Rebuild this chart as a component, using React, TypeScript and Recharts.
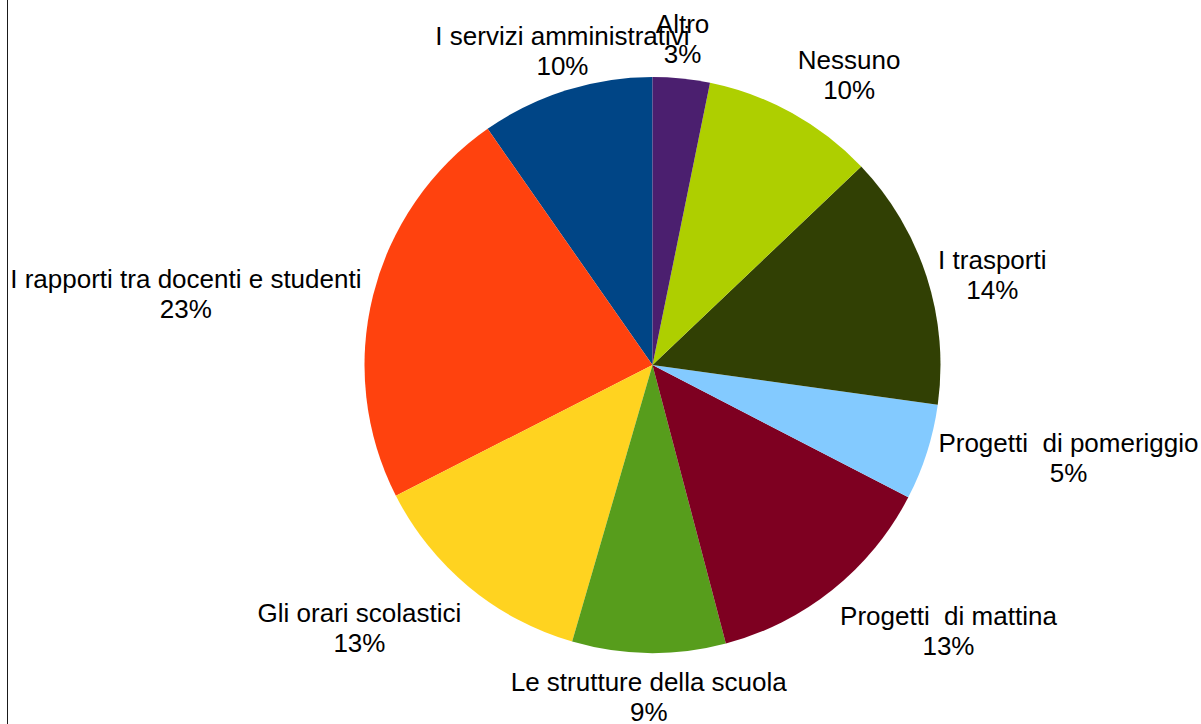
import { Cell, Pie, PieChart } from "recharts";

// slices in LibreOffice order (drawn counter-clockwise from 12 o'clock)
const categories = [
  "I servizi amministrativi",
  "I rapporti tra docenti e studenti",
  "Gli orari scolastici",
  "Le strutture della scuola",
  "Progetti  di mattina",
  "Progetti  di pomeriggio",
  "I trasporti",
  "Nessuno",
  "Altro",
];
const shares = [9.7, 22.8, 13.0, 8.6, 13.3, 5.4, 14.3, 9.7, 3.2];
const colors = [
  "#004586",
  "#ff420e",
  "#ffd320",
  "#579d1c",
  "#7e0021",
  "#83caff",
  "#314004",
  "#aecf00",
  "#4b1f6f",
];

const data = categories.map((name, i) => ({ name, value: shares[i] }));

const W = 1201;
const H = 724;
const CX = 652.5;
const CY = 365;
const R = 288;
const FONT = 26;
const LINE = 30;
const FONT_FAMILY = "'Liberation Sans', Arial, sans-serif";

let ctx: CanvasRenderingContext2D | null = null;
function textWidth(s: string) {
  if (!ctx) ctx = document.createElement("canvas").getContext("2d");
  if (!ctx) return s.length * FONT * 0.5;
  ctx.font = `${FONT}px ${FONT_FAMILY}`;
  return ctx.measureText(s).width;
}

const RAD = Math.PI / 180;

// LibreOffice-like placement: the box corner/edge nearest the pie sits at r + 12
function renderLabel(props: any) {
  const { cx, cy, outerRadius, midAngle, percent, name } = props;
  const dist = outerRadius + 12;
  const px = cx + dist * Math.cos(-midAngle * RAD);
  const py = cy + dist * Math.sin(-midAngle * RAD);
  const pct = `${Math.round(percent * 100)}%`;
  const w = Math.max(textWidth(name), textWidth(pct));
  const h = LINE * 2;
  // clock angle from 12 o'clock, clockwise
  let a = (90 - midAngle) % 360;
  if (a < 0) a += 360;
  const sector = Math.round(a / 45) % 8;
  // -1 box to the left/top, 0 centred, 1 box to the right/bottom
  const hx = [0, 1, 1, 1, 0, -1, -1, -1][sector];
  const vy = [-1, -1, 0, 1, 1, 1, 0, -1][sector];
  const bx = px + (hx * w) / 2;
  const by = py + (vy * h) / 2;
  const top = by - h / 2 + 2;
  return (
    <text
      x={bx}
      textAnchor="middle"
      fill="#000"
      fontSize={FONT}
      fontFamily={FONT_FAMILY}
      style={{ whiteSpace: "pre" }}
    >
      <tspan x={bx} y={top + LINE / 2} dominantBaseline="central">
        {name}
      </tspan>
      <tspan x={bx} y={top + LINE * 1.5} dominantBaseline="central">
        {pct}
      </tspan>
    </text>
  );
}

export default function App() {
  return (
    <div
      style={{
        position: "absolute",
        left: 0,
        top: 0,
        width: W,
        height: H,
        background: "#fff",
        overflow: "hidden",
      }}
    >
      <div
        style={{
          position: "absolute",
          left: 7,
          top: -10,
          width: W,
          height: H + 20,
          borderLeft: "1px solid #1a1a1a",
        }}
      />
      <PieChart
        width={W}
        height={H}
        margin={{ top: 0, right: 0, bottom: 0, left: 0 }}
      >
        <Pie
          data={data}
          dataKey="value"
          nameKey="name"
          cx={CX}
          cy={CY}
          outerRadius={R}
          startAngle={90}
          endAngle={450}
          stroke="none"
          label={renderLabel}
          labelLine={false}
          isAnimationActive={false}
        >
          {data.map((d, i) => (
            <Cell key={d.name} fill={colors[i]} />
          ))}
        </Pie>
      </PieChart>
    </div>
  );
}
